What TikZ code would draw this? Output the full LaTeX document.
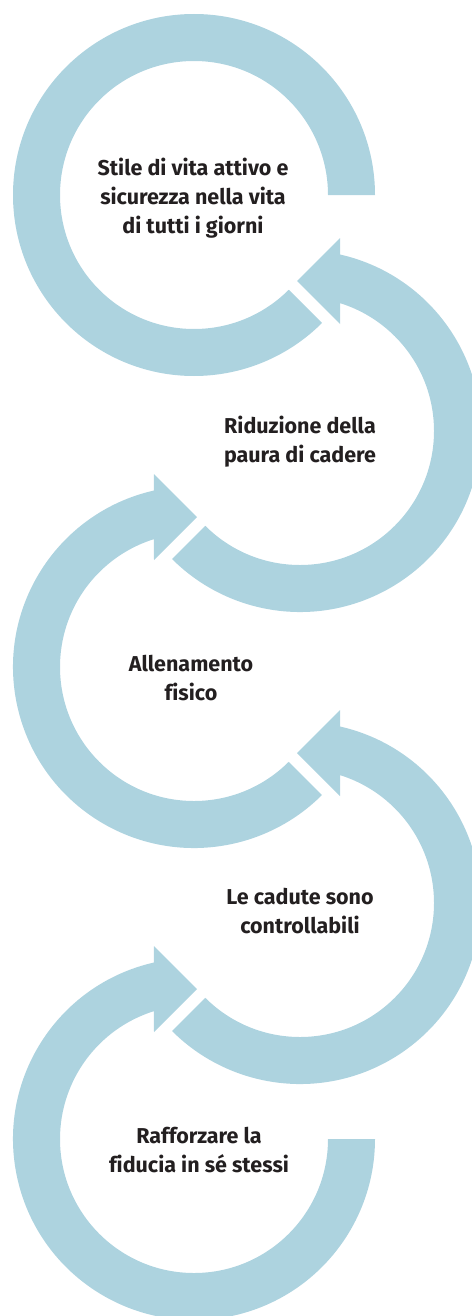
\documentclass[tikz,border=0pt]{standalone}
\usepackage{fontspec}
\setmainfont{Fira Sans}[Ligatures=NoCommon]
\usepackage{tikz}
\usetikzlibrary{calc}
\definecolor{ringblue}{RGB}{173,211,223}
\definecolor{labelgray}{RGB}{35,31,32}
\def\ringleft(#1){\fill[ringblue] ($(#1)+(-135:134pt)$) arc[start angle=-135, end angle=72.6, radius=134pt] -- ($(#1)+(40pt,107pt)$) -- ($(#1)+(-3pt,150pt)$) -- ($(#1)+(40pt,193pt)$) -- ($(#1)+(77.2:181pt)$) arc[start angle=77.2, end angle=-135, radius=181pt] -- cycle;}
\def\ringright(#1)(#2){\fill[ringblue] ($(#1)+(#2:134pt)$) arc[start angle=#2, end angle=107.4, radius=134pt] -- ($(#1)+(-40pt,107pt)$) -- ($(#1)+(3pt,150pt)$) -- ($(#1)+(-40pt,193pt)$) -- ($(#1)+(102.8:181pt)$) arc[start angle=102.8, end angle=#2, radius=181pt] -- cycle;}
\tikzset{cyclelabel/.style={font=\fontsize{21.5}{29}\selectfont\bfseries, text=labelgray, align=center}}

\begin{document}
\begin{tikzpicture}[x=1pt,y=1pt]
		%%%%% START %%%%%
		
		\useasboundingbox (0,0) rectangle (471,-1316);
		
		\coordinate (c1) at (194,-195);
		\coordinate (c2) at (300,-431);
		\coordinate (c3) at (194,-667);
		\coordinate (c4) at (300,-903);
		\coordinate (c5) at (194,-1139);
		
		\fill[ringblue] ($(c1)+(0:181pt)$) arc[start angle=0, end angle=315, radius=181pt] -- ($(c1)+(315:134pt)$) arc[start angle=315, end angle=0, radius=134pt] -- cycle;
		\ringleft(c2)
		\ringright(c3)(315)
		\ringleft(c4)
		\ringright(c5)(360)
		
		\node[cyclelabel] (stile) at (193,-198) {Stile di vita attivo e\\sicurezza nella vita\\di tutti i giorni};
		\node[cyclelabel] (paura) at (300,-442) {Riduzione della\\paura di cadere};
		\node[cyclelabel] (allenamento) at (191,-678) {Allenamento\\fisico};
		\node[cyclelabel] (cadute) at (300,-911) {Le cadute sono\\controllabili};
		\node[cyclelabel] (fiducia) at (199,-1150) {Rafforzare la\\fiducia in sé stessi};
		
		%%%%% END %%%%%
	\end{tikzpicture}
\end{document}
